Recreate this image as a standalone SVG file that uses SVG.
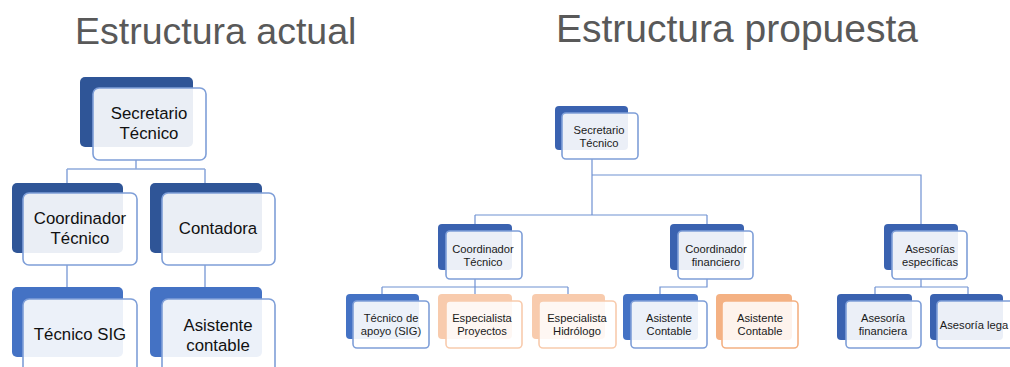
<svg xmlns="http://www.w3.org/2000/svg" width="1010" height="367" viewBox="0 0 1010 367">
<style>
.title{font-family:"Liberation Sans",Arial,sans-serif;fill:#595959}
.bk1{fill:#2F5597}
.bk2{fill:#4472C4}
.bk3{fill:#3A62B0}
.bko{fill:#F8CBAD}
.bko2{fill:#F4B183}
.fr{fill:#fff;fill-opacity:0.9;stroke:#7F9FD8;stroke-width:1.6}
.fro{fill:#fff;fill-opacity:0.85;stroke:#F8CBAD;stroke-width:1.6}
.fro2{fill:#fff;fill-opacity:0.85;stroke:#F4B183;stroke-width:1.6}
.tl{font-family:"Liberation Sans",Arial,sans-serif;font-size:16.8px;fill:#111;text-anchor:middle}
.ts{font-family:"Liberation Sans",Arial,sans-serif;font-size:11.2px;fill:#1a1a1a;text-anchor:middle}
.cn{fill:none;stroke:#8FAADC;stroke-width:1.6}
.cn2{fill:none;stroke:#6F91D2;stroke-width:1.2}
</style>
<text class="title" x="75" y="44" font-size="37.5">Estructura actual</text>
<text class="title" x="556" y="42" font-size="39">Estructura propuesta</text>
<g id="connectors">
<path class="cn" d="M136 160V169M67 169H205M67 169V183M205 169V183M67 265V287M205 265V287"/>
<path class="cn2" d="M592 159V215M592 175H921V224M475 215H707M475 215V224M707 215V224"/>
<path class="cn2" d="M475 279V287M382 287H568M382 287V294M568 287V294M475 287V294"/>
<path class="cn2" d="M707 279V287H660V294"/>
<path class="cn2" d="M921 279V287M875 287H968M875 287V294M968 287V294"/>
</g>
<g id="l-secretario">
<rect class="bk1" x="80" y="77" width="113" height="70" rx="5"/>
<rect class="fr" x="93" y="88" width="113" height="72" rx="6"/>
<text class="tl" x="149" y="119">Secretario</text>
<text class="tl" x="149" y="139">Técnico</text>
</g>
<g id="l-coordinador">
<rect class="bk1" x="12" y="183" width="111" height="70" rx="5"/>
<rect class="fr" x="23" y="193" width="114" height="72" rx="6"/>
<text class="tl" x="80" y="224">Coordinador</text>
<text class="tl" x="80" y="244">Técnico</text>
</g>
<g id="l-contadora">
<rect class="bk1" x="150" y="183" width="112" height="70" rx="5"/>
<rect class="fr" x="162" y="193" width="113" height="72" rx="6"/>
<text class="tl" x="218" y="234">Contadora</text>
</g>
<g id="l-tecnico-sig">
<rect class="bk2" x="12" y="287" width="111" height="70" rx="5"/>
<rect class="fr" x="23" y="299" width="114" height="80" rx="6"/>
<text class="tl" x="80" y="340">Técnico SIG</text>
</g>
<g id="l-asistente">
<rect class="bk2" x="150" y="287" width="112" height="70" rx="5"/>
<rect class="fr" x="162" y="299" width="113" height="80" rx="6"/>
<text class="tl" x="218" y="331">Asistente</text>
<text class="tl" x="218" y="351">contable</text>
</g>
<g id="r-secretario">
<rect class="bk3" x="555" y="106" width="73" height="44" rx="4"/>
<rect class="fr" x="562" y="113" width="76" height="46" rx="4"/>
<text class="ts" x="599" y="134">Secretario</text>
<text class="ts" x="599" y="147">Técnico</text>
</g>
<g id="r-coord-tecnico">
<rect class="bk3" x="438" y="224" width="74" height="46" rx="4"/>
<rect class="fr" x="446" y="231" width="76" height="48" rx="4"/>
<text class="ts" x="483" y="253">Coordinador</text>
<text class="ts" x="483" y="266">Técnico</text>
</g>
<g id="r-coord-financiero">
<rect class="bk3" x="670" y="224" width="74" height="46" rx="4"/>
<rect class="fr" x="678" y="231" width="75" height="48" rx="4"/>
<text class="ts" x="716" y="253">Coordinador</text>
<text class="ts" x="716" y="266">financiero</text>
</g>
<g id="r-asesorias">
<rect class="bk3" x="884" y="224" width="74" height="46" rx="4"/>
<rect class="fr" x="892" y="231" width="75" height="48" rx="4"/>
<text class="ts" x="930" y="253">Asesorías</text>
<text class="ts" x="930" y="266">específicas</text>
</g>
<g id="r-tecnico-apoyo">
<rect class="bk2" x="346" y="294" width="73" height="45" rx="4"/>
<rect class="fr" x="353" y="301" width="76" height="47" rx="4"/>
<text class="ts" x="391" y="322">Técnico de</text>
<text class="ts" x="391" y="335">apoyo (SIG)</text>
</g>
<g id="r-esp-proyectos">
<rect class="bko" x="438" y="294" width="74" height="45" rx="4"/>
<rect class="fro" x="446" y="301" width="76" height="47" rx="4"/>
<text class="ts" x="482" y="322">Especialista</text>
<text class="ts" x="482" y="335">Proyectos</text>
</g>
<g id="r-esp-hidrologo">
<rect class="bko" x="532" y="294" width="73" height="45" rx="4"/>
<rect class="fro" x="539" y="301" width="77" height="47" rx="4"/>
<text class="ts" x="577" y="322">Especialista</text>
<text class="ts" x="577" y="335">Hidrólogo</text>
</g>
<g id="r-asistente-1">
<rect class="bk2" x="623" y="294" width="75" height="46" rx="4"/>
<rect class="fr" x="631" y="301" width="76" height="47" rx="4"/>
<text class="ts" x="669" y="322">Asistente</text>
<text class="ts" x="669" y="335">Contable</text>
</g>
<g id="r-asistente-2">
<rect class="bko2" x="716" y="294" width="76" height="46" rx="4"/>
<rect class="fro2" x="722" y="301" width="76" height="47" rx="4"/>
<text class="ts" x="760" y="322">Asistente</text>
<text class="ts" x="760" y="335">Contable</text>
</g>
<g id="r-asesoria-financiera">
<rect class="bk3" x="837" y="294" width="75" height="46" rx="4"/>
<rect class="fr" x="846" y="301" width="75" height="47" rx="4"/>
<text class="ts" x="883" y="322">Asesoría</text>
<text class="ts" x="883" y="335">financiera</text>
</g>
<g id="r-asesoria-legal">
<rect class="bk3" x="930" y="294" width="73" height="46" rx="4"/>
<rect class="fr" x="937" y="301" width="78" height="47" rx="4"/>
<text class="ts" x="974" y="329">Asesoría lega</text>
</g>
</svg>
